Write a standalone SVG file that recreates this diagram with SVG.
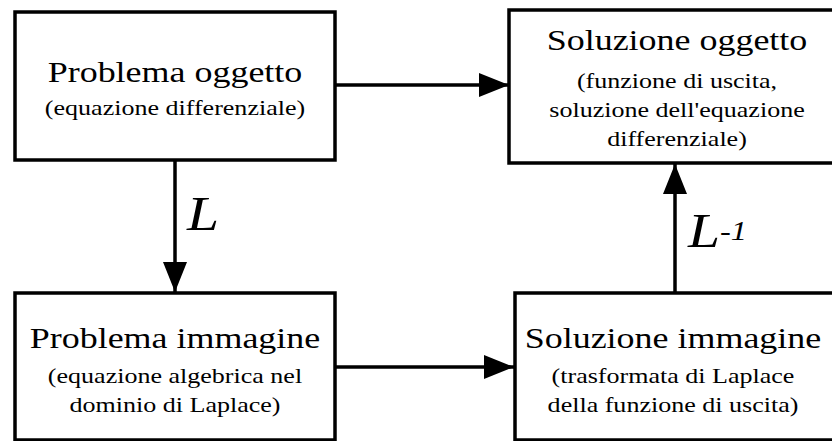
<svg xmlns="http://www.w3.org/2000/svg" width="832" height="441" viewBox="0 0 832 441">
<defs>
<marker id="ah" markerWidth="30" markerHeight="24" refX="30" refY="12" orient="auto" markerUnits="userSpaceOnUse">
<path d="M0,0 L30,12 L0,24 Z" fill="#000"/>
</marker>
<style>
.box{fill:#fff;stroke:#000;stroke-width:3.5}
.t{font-family:"Liberation Serif","Times New Roman",serif;fill:#000;text-anchor:middle}
.h{font-size:29px}
.s{font-size:21px}
.c{stroke:#000;stroke-width:3.5;fill:none}
.lab{font-family:"Liberation Serif","Times New Roman",serif;font-style:italic;fill:#000}
</style>
</defs>
<rect width="832" height="441" fill="#fff"/>
<g id="n1">
<rect class="box" x="15" y="12" width="320" height="148"/>
<g transform="translate(175,0) scale(1.24,1)">
<text class="t h" x="0" y="82">Problema oggetto</text>
<text class="t s" x="0" y="115">(equazione differenziale)</text>
</g>
</g>
<g id="n2">
<rect class="box" x="509" y="10" width="340" height="153"/>
<g transform="translate(677,0) scale(1.24,1)">
<text class="t h" x="0" y="50">Soluzione oggetto</text>
<text class="t s" x="0" y="88">(funzione di uscita,</text>
<text class="t s" x="0" y="117">soluzione dell'equazione</text>
<text class="t s" x="0" y="146">differenziale)</text>
</g>
</g>
<g id="n3">
<rect class="box" x="15" y="293" width="320" height="147"/>
<g transform="translate(175,0) scale(1.24,1)">
<text class="t h" x="0" y="348">Problema immagine</text>
<text class="t s" x="0" y="383">(equazione algebrica nel</text>
<text class="t s" x="0" y="412">dominio di Laplace)</text>
</g>
</g>
<g id="n4">
<rect class="box" x="515" y="293" width="330" height="147"/>
<g transform="translate(673,0) scale(1.24,1)">
<text class="t h" x="0" y="348">Soluzione immagine</text>
<text class="t s" x="0" y="383">(trasformata di Laplace</text>
<text class="t s" x="0" y="412">della funzione di uscita)</text>
</g>
</g>
<g id="connectors">
<line class="c" x1="336" y1="85" x2="509" y2="85" marker-end="url(#ah)"/>
<line class="c" x1="175" y1="161" x2="175" y2="292" marker-end="url(#ah)"/>
<line class="c" x1="336" y1="367" x2="514" y2="367" marker-end="url(#ah)"/>
<line class="c" x1="675" y1="292" x2="675" y2="164" marker-end="url(#ah)"/>
<g transform="translate(187,0) scale(1.2,1)">
<text class="lab" x="0" y="230" font-size="48">L</text>
</g>
<g transform="translate(688,0) scale(1.2,1)">
<text class="lab" x="0" y="247" font-size="48">L<tspan font-size="27" dy="-7">-1</tspan></text>
</g>
</g>
</svg>
